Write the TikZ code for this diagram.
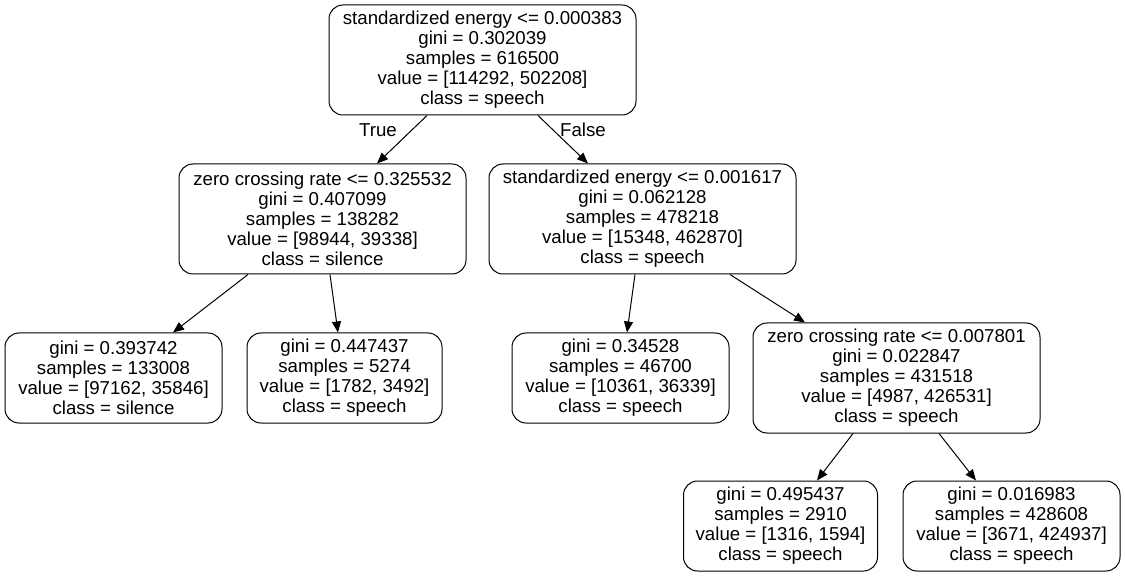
\documentclass[tikz,border=0pt]{standalone}
\usepackage{fontspec}
\setmainfont{Liberation Sans}
\usetikzlibrary{arrows.meta,positioning}

\tikzset{
  treenode/.style={draw,line width=1pt,rounded corners=14pt,align=center,inner sep=0pt,
    font=\fontsize{18.67}{20}\selectfont},
  treeedge/.style={line width=1pt,-{Triangle[length=11pt,width=9pt]}},
  edgelabel/.style={font=\fontsize{18.67}{20}\selectfont}
}

\begin{document}
\begin{tikzpicture}[x=1pt,y=-1pt]
  \useasboundingbox (0,0) rectangle (1125,577);

  % root
  \node[treenode,minimum width=307pt,minimum height=110pt] (root) at (482.5,60)
    {standardized energy <= 0.000383\\gini = 0.302039\\samples = 616500\\value = [114292, 502208]\\class = speech};

  % level 1
  \node[treenode,minimum width=287pt,minimum height=110pt] (left) at (322.5,219)
    {zero crossing rate <= 0.325532\\gini = 0.407099\\samples = 138282\\value = [98944, 39338]\\class = silence};
  \node[treenode,minimum width=307pt,minimum height=110pt] (right) at (642.5,219)
    {standardized energy <= 0.001617\\gini = 0.062128\\samples = 478218\\value = [15348, 462870]\\class = speech};

  % level 2
  \node[treenode,minimum width=217pt,minimum height=90pt] (leftL) at (113.5,378)
    {gini = 0.393742\\samples = 133008\\value = [97162, 35846]\\class = silence};
  \node[treenode,minimum width=195pt,minimum height=90pt] (leftR) at (344.5,378)
    {gini = 0.447437\\samples = 5274\\value = [1782, 3492]\\class = speech};
  \node[treenode,minimum width=217pt,minimum height=90pt] (rightL) at (620.5,378)
    {gini = 0.34528\\samples = 46700\\value = [10361, 36339]\\class = speech};
  \node[treenode,minimum width=287pt,minimum height=110pt] (rightR) at (896.5,378)
    {zero crossing rate <= 0.007801\\gini = 0.022847\\samples = 431518\\value = [4987, 426531]\\class = speech};

  % level 3
  \node[treenode,minimum width=194pt,minimum height=90pt] (rightRL) at (780.5,526)
    {gini = 0.495437\\samples = 2910\\value = [1316, 1594]\\class = speech};
  \node[treenode,minimum width=217pt,minimum height=90pt] (rightRR) at (1011.5,526)
    {gini = 0.016983\\samples = 428608\\value = [3671, 424937]\\class = speech};

  % edges
  \draw[treeedge] ([xshift=-55.5pt]root.south) -- ([xshift=54.5pt]left.north);
  \draw[treeedge] ([xshift=55.5pt]root.south) -- ([xshift=-54.5pt]right.north);
  \node[edgelabel] (truelbl) at (378,130) {True};
  \node[edgelabel] (falselbl) at (583,130) {False};

  \draw[treeedge] ([xshift=-74.5pt]left.south) -- ([xshift=59.5pt]leftL.north);
  \draw[treeedge] ([xshift=7.5pt]left.south) -- ([xshift=-6.5pt]leftR.north);
  \draw[treeedge] ([xshift=-7.5pt]right.south) -- ([xshift=6.5pt]rightL.north);
  \draw[treeedge] ([xshift=87.5pt]right.south) -- ([xshift=-91.5pt]rightR.north);

  \draw[treeedge] ([xshift=-43.5pt]rightR.south) -- ([xshift=36.5pt]rightRL.north);
  \draw[treeedge] ([xshift=42.5pt]rightR.south) -- ([xshift=-35.5pt]rightRR.north);
\end{tikzpicture}
\end{document}
